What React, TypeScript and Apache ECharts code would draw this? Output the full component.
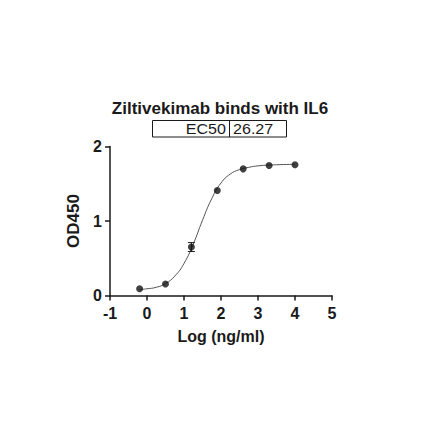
import {useEffect, useRef} from 'react';
import * as echarts from 'echarts';

// measured points, log(ng/ml) vs OD450
const logConc = [-0.2, 0.5, 1.2, 1.9, 2.6, 3.3, 4.0];
const od450 = [0.09, 0.155, 0.65, 1.41, 1.7, 1.745, 1.755];
const odErr = [0, 0, 0.06, 0, 0, 0, 0];

// fitted curve
const fitX = [-0.2, 0, 0.25, 0.5, 0.75, 1.0, 1.25, 1.5, 1.75, 2.0, 2.25, 2.5, 2.75, 3.0, 3.5, 4.0];
const fitY = [0.08, 0.09, 0.11, 0.16, 0.26, 0.43, 0.69, 1.01, 1.3, 1.51, 1.63, 1.69, 1.72, 1.74, 1.755, 1.76];

const xTicks = [-1, 0, 1, 2, 3, 4, 5];
const yTicks = [0, 1, 2];

const ec50Label = 'EC50';
const ec50Value = '26.27';

const FONT = 'Liberation Sans, Arial, sans-serif';
const INK = '#1a1a1a';

const App = () => {
    const chartRef = useRef<HTMLDivElement>(null);

    useEffect(() => {
        const myChart = echarts.init(chartRef.current!, null, {renderer: 'svg'});

        const axisStroke = {color: INK, width: 1.5};
        const labelStyle = {fontFamily: FONT, fontSize: 16, fontWeight: 'bold', color: INK};

        myChart.setOption({
            animation: false,
            title: {
                text: 'Ziltivekimab binds with IL6',
                left: 'center',
                top: 95,
                textStyle: {fontFamily: FONT, fontSize: 17, fontWeight: 'bold', color: INK},
            },
            grid: {left: 110, right: 108, top: 146.5, bottom: 145.5},
            xAxis: {
                type: 'value',
                min: xTicks[0],
                max: xTicks[xTicks.length - 1],
                interval: 1,
                name: 'Log (ng/ml)',
                nameLocation: 'middle',
                nameGap: 33,
                nameTextStyle: labelStyle,
                axisLine: {onZero: false, lineStyle: axisStroke},
                axisTick: {show: true, length: 5, lineStyle: axisStroke},
                axisLabel: {...labelStyle, margin: 10},
                splitLine: {show: false},
            },
            yAxis: {
                type: 'value',
                min: yTicks[0],
                max: yTicks[yTicks.length - 1],
                interval: 1,
                name: 'OD450',
                nameLocation: 'middle',
                nameGap: 23,
                nameRotate: 90,
                nameTextStyle: {...labelStyle, fontSize: 17},
                axisLine: {show: true, onZero: false, lineStyle: axisStroke},
                axisTick: {show: true, length: 5, lineStyle: axisStroke},
                axisLabel: {...labelStyle, margin: 8},
                splitLine: {show: false},
            },
            graphic: [
                {
                    type: 'rect',
                    shape: {x: 152.5, y: 120.5, width: 134, height: 16.5},
                    style: {fill: 'none', stroke: INK, lineWidth: 1},
                },
                {
                    type: 'line',
                    shape: {x1: 229.5, y1: 120.5, x2: 229.5, y2: 137},
                    style: {stroke: INK, lineWidth: 1},
                },
                {
                    type: 'text',
                    x: 226,
                    y: 129,
                    scaleX: 1.15,
                    style: {text: ec50Label, fontFamily: FONT, fontSize: 14, fill: INK, align: 'right', verticalAlign: 'middle'},
                },
                {
                    type: 'text',
                    x: 233,
                    y: 129,
                    scaleX: 1.15,
                    style: {text: ec50Value, fontFamily: FONT, fontSize: 14, fill: INK, align: 'left', verticalAlign: 'middle'},
                },
            ],
            series: [
                {
                    type: 'line',
                    data: fitX.map((x, i) => [x, fitY[i]]),
                    smooth: true,
                    showSymbol: false,
                    lineStyle: {color: '#555', width: 1},
                    z: 2,
                },
                {
                    type: 'custom',
                    data: logConc.map((x, i) => [x, od450[i] - odErr[i], od450[i] + odErr[i]]),
                    renderItem: (params: any, api: any) => {
                        const lo = api.coord([api.value(0), api.value(1)]);
                        const hi = api.coord([api.value(0), api.value(2)]);
                        if (Math.abs(hi[1] - lo[1]) < 0.5) return {type: 'group', children: []};
                        const style = {stroke: INK, lineWidth: 1};
                        return {
                            type: 'group',
                            children: [
                                {type: 'line', shape: {x1: lo[0], y1: lo[1], x2: hi[0], y2: hi[1]}, style},
                                {type: 'line', shape: {x1: lo[0] - 3.5, y1: lo[1], x2: lo[0] + 3.5, y2: lo[1]}, style},
                                {type: 'line', shape: {x1: hi[0] - 3.5, y1: hi[1], x2: hi[0] + 3.5, y2: hi[1]}, style},
                            ],
                        };
                    },
                    z: 3,
                },
                {
                    type: 'scatter',
                    data: logConc.map((x, i) => [x, od450[i]]),
                    symbol: 'circle',
                    symbolSize: 7,
                    itemStyle: {color: '#111'},
                    z: 4,
                },
            ],
        });

        return () => {
            myChart.dispose();
        };
    }, []);

    return (
        <div
            ref={chartRef}
            style={{position: 'fixed', left: 0, top: 0, width: '440px', height: '441px', background: '#fff'}}
        />
    );
};

export default App;
